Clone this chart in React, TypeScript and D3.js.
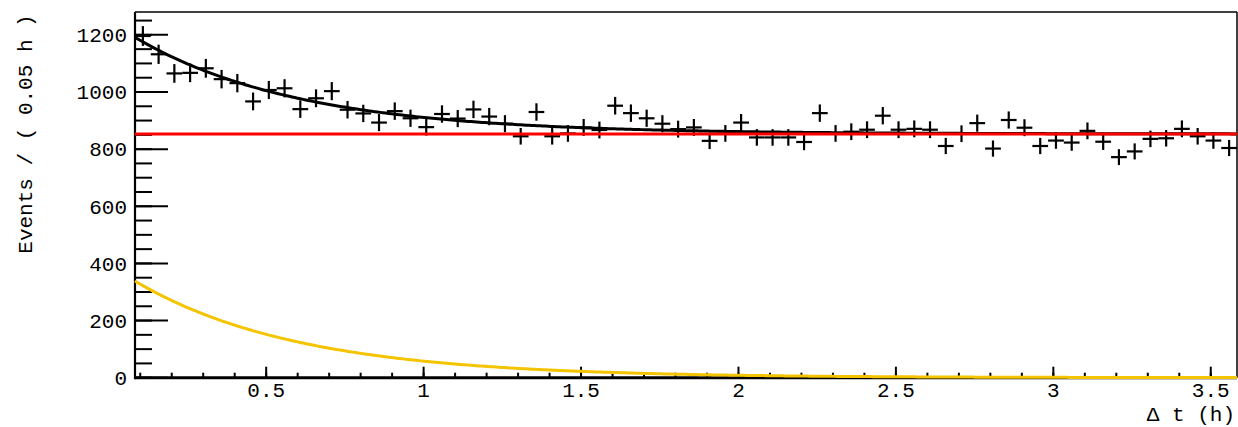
import React from "react";
import * as d3 from "d3";

// Histogram of Δt in 0.05 h bins, starting at 1/12 h
const binStart = 1 / 12;
const binWidth = 0.05;
const counts = [
  1196, 1132, 1065, 1067, 1083, 1045, 1031, 967, 1007, 1013,
  940, 978, 1003, 938, 925, 893, 933, 908, 877, 923,
  907, 939, 914, 889, 845, 930, 845, 855, 876, 867,
  952, 926, 908, 889, 870, 876, 829, 855, 893, 841,
  841, 841, 825, 926, 855, 861, 868, 917, 868, 871,
  868, 811, 854, 891, 802, 902, 875, 811, 830, 823,
  864, 826, 772, 792, 836, 838, 871, 845, 830, 804,
];

// Fit model: flat background plus an exponential decay
const fitConstant = 853;
const expAmplitude = 397;
const expTau = 0.52;

const xMajorTicks = [0.5, 1, 1.5, 2, 2.5, 3, 3.5];
const xTickLabels = ["0.5", "1", "1.5", "2", "2.5", "3", "3.5"];
const yMajorTicks = [0, 200, 400, 600, 800, 1000, 1200];
const yTickLabels = ["0", "200", "400", "600", "800", "1000", "1200"];

const W = 1238;
const H = 427;
const xMin = binStart;
const xMax = binStart + counts.length * binWidth;

export default function App() {
  const x = d3.scaleLinear().domain([xMin, xMax]).range([135, 1237]);
  const y = d3.scaleLinear().domain([0, 1280]).range([377.7, 12]);
  const font = "'Liberation Mono', 'DejaVu Sans Mono', monospace";

  const xMinor = d3.range(1, 36).map((i) => i / 10).filter((v) => v > xMin && v < xMax);
  const yMinor = d3.range(0, 1280, 50);

  const samples = d3.range(0, 401).map((i) => xMin + ((xMax - xMin) * i) / 400);
  const expPart = (t: number) => expAmplitude * Math.exp(-t / expTau);
  const lineGen = d3
    .line<number>()
    .x((t) => x(t))
    .curve(d3.curveLinear);
  const totalPath = lineGen.y((t) => y(fitConstant + expPart(t)))(samples) || "";
  const expPath = lineGen.y((t) => y(expPart(t)))(samples) || "";
  const constPath = lineGen.y(() => y(fitConstant))(samples) || "";

  return (
    <svg
      width={W}
      height={H}
      style={{ position: "absolute", left: 0, top: 0, background: "#fff" }}
      fontFamily={font}
    >
      <rect x={0} y={0} width={W} height={H} fill="#fff" />
      {/* frame */}
      <line x1={x(xMin)} x2={x(xMax)} y1={12} y2={12} stroke="#000" strokeWidth={1.5} />
      <line x1={x(xMax)} x2={x(xMax)} y1={12} y2={y(0)} stroke="#000" strokeWidth={1.5} />

      {/* y axis ticks */}
      {yMinor.map((v) => (
        <line key={"ym" + v} x1={x(xMin)} x2={x(xMin) + 17} y1={y(v)} y2={y(v)} stroke="#000" strokeWidth={2} />
      ))}
      {yMajorTicks.map((v) => (
        <line key={"yM" + v} x1={x(xMin)} x2={x(xMin) + 33} y1={y(v)} y2={y(v)} stroke="#000" strokeWidth={2} />
      ))}
      {yMajorTicks.map((v, i) => (
        <text key={"yl" + v} x={127} y={y(v)} dy="0.35em" textAnchor="end" fontSize={21} fill="#000">
          {yTickLabels[i]}
        </text>
      ))}

      {/* x axis ticks */}
      {xMinor.map((v) => (
        <line key={"xm" + v} x1={x(v)} x2={x(v)} y1={y(0)} y2={y(0) - 5} stroke="#000" strokeWidth={2} />
      ))}
      {xMajorTicks.map((v) => (
        <line key={"xM" + v} x1={x(v)} x2={x(v)} y1={y(0)} y2={y(0) - 11} stroke="#000" strokeWidth={2} />
      ))}
      {xMajorTicks.map((v, i) => (
        <text key={"xl" + v} x={x(v)} y={397} textAnchor="middle" fontSize={21} fill="#000">
          {xTickLabels[i]}
        </text>
      ))}

      {/* data points with error bars */}
      {counts.map((c, i) => {
        const cx = binStart + (i + 0.5) * binWidth;
        const err = Math.sqrt(c);
        return (
          <g key={"p" + i} stroke="#000" strokeWidth={2.2}>
            <line x1={x(cx - binWidth / 2)} x2={x(cx + binWidth / 2)} y1={y(c)} y2={y(c)} />
            <line x1={x(cx)} x2={x(cx)} y1={y(c - err)} y2={y(c + err)} />
          </g>
        );
      })}

      {/* axes lines */}
      <line x1={x(xMin)} x2={x(xMin)} y1={12} y2={y(0) + 1.5} stroke="#000" strokeWidth={2.2} />
      <line x1={x(xMin)} x2={x(xMax)} y1={y(0)} y2={y(0)} stroke="#000" strokeWidth={3} />

      {/* fit curves */}
      <path d={totalPath} fill="none" stroke="#000" strokeWidth={3} />
      <path d={constPath} fill="none" stroke="#f00" strokeWidth={3} />
      <path d={expPath} fill="none" stroke="#f5c400" strokeWidth={3} />

      {/* axis titles */}
      <text x={1235} y={421} textAnchor="end" fontSize={21} fill="#000">
        Δ t (h)
      </text>
      <text
        transform={`translate(32, 134) rotate(-90)`}
        textAnchor="middle"
        fontSize={21}
        fill="#000"
      >
        Events / ( 0.05 h )
      </text>
    </svg>
  );
}
